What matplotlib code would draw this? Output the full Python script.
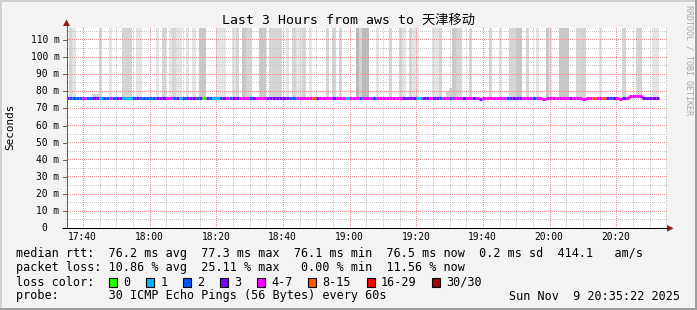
import numpy as np
import matplotlib
matplotlib.use("Agg")
import matplotlib.pyplot as plt
import matplotlib.dates as mdates
from matplotlib.patches import Rectangle, Polygon
from matplotlib.transforms import IdentityTransform
from datetime import datetime, timedelta

# ---------------- data ----------------
title = "Last 3 Hours from aws to 天津移动"
t_start = datetime(2025, 11, 9, 17, 35, 22)
t_end = datetime(2025, 11, 9, 20, 35, 22)
first_step = datetime(2025, 11, 9, 17, 35, 0)

# packets lost (of 30) per minute
loss = [3, 2, 2, 2, 2, 5, 2, 2, 3, 3,
        1, 2, 2, 4, 2, 3, 3, 1, 1, 1,
        2, 3, 2, 2, 2, 2, 2, 3, 3, 3,
        5, 4, 2, 3, 1, 2, 3, 3, 3, 2,
        3, 0, 3, 2, 1, 1, 2, 3, 4, 2,
        3, 3, 5, 4, 6, 2, 3, 4, 5, 4,
        3, 3, 3, 3, 3, 3, 3, 2, 2, 5,
        4, 6, 5, 4, 9, 3, 4, 5, 5, 4,
        3, 5, 4, 4, 1, 5, 4, 5, 2,
        4, 5, 4, 2, 5, 4, 4, 6, 5, 4,
        5, 4, 3, 3, 3, 3, 1, 1, 3, 3,
        4, 3, 3, 2, 5, 4, 2, 4, 5, 4,
        3, 5, 4, 3, 4, 3, 5, 4, 4, 6,
        5, 4, 5, 2, 3, 3, 3, 3, 4, 5,
        4, 2, 5, 4, 4, 4, 5, 4, 6, 5,
        4, 5, 3, 4, 5, 4, 4, 5, 4, 9,
        5, 6, 10, 3, 2, 3, 4, 5, 3,
        5, 4, 6, 5, 4, 3, 3, 3, 3, 3]

# median rtt per minute (ms)
median = ([76.3] * 66 + [76.2] * 58 + [75.6] + [76.2] * 18 + [75.6]
          + [76.2] * 11 + [75.6] + [76.2] * 10 + [75.6] + [76.2] * 2
          + [77.3, 77.3, 77.2, 77.2] + [76.2] * 5)

# smoke darkness per minute (0 none .. 4 darkest); full-height smoke
smoke = [0] * len(loss)
smoke_marks = {1: 2, 2: 1, 10: 2, 13: 1, 17: 2, 18: 2, 19: 2, 21: 1, 22: 1,
               27: 1, 29: 2, 31: 1, 32: 2, 33: 1, 34: 1, 36: 1, 38: 1,
               40: 3, 41: 3, 45: 1, 46: 1, 47: 1, 50: 1, 51: 2, 53: 3,
               54: 2, 55: 2, 58: 3, 59: 3, 61: 2, 62: 2, 63: 2, 64: 2,
               66: 1, 68: 2, 69: 1, 70: 1, 71: 2, 73: 1, 78: 2, 80: 2,
               82: 2, 87: 4, 88: 2, 89: 4, 90: 4, 93: 1, 97: 2, 100: 2,
               101: 1, 103: 2, 104: 1, 105: 1, 110: 1, 111: 1, 112: 2,
               116: 3, 117: 2, 118: 2, 121: 2, 127: 2, 130: 1, 133: 2,
               134: 2, 135: 3, 136: 3, 138: 2, 141: 1, 144: 3, 145: 1,
               148: 3, 149: 3, 150: 3, 153: 2, 154: 2, 155: 2, 160: 1,
               167: 2, 171: 2, 172: 2, 176: 1, 177: 1}
for k, v in smoke_marks.items():
    smoke[k] = v
# small low smoke lumps (minute index, top in ms)
low_smoke_idx = [8, 9, 114, 115]
low_smoke_top = [78.5, 78.5, 80.0, 82.0]

y_ticks = [0, 10, 20, 30, 40, 50, 60, 70, 80, 90, 100, 110]
y_minor = [5, 15, 25, 35, 45, 55, 65, 75, 85, 95, 105, 115]
y_max = 117.0
x_label_times = ["17:40", "18:00", "18:20", "18:40", "19:00", "19:20",
                 "19:40", "20:00", "20:20"]

loss_labels = ["0", "1", "2", "3", "4-7", "8-15", "16-29", "30/30"]
loss_colors = ["#26ff00", "#00b8ff", "#0059ff", "#7e00ff", "#ff00ff",
               "#ff5500", "#ff0000", "#a10000"]
loss_bounds = [0, 1, 2, 3, 7, 15, 29, 30]

legend_rtt = "median rtt:  76.2 ms avg  77.3 ms max  76.1 ms min  76.5 ms now  0.2 ms sd  414.1   am/s"
legend_loss = "packet loss: 10.86 % avg  25.11 % max   0.00 % min  11.56 % now"
legend_probe = "probe:       30 ICMP Echo Pings (56 Bytes) every 60s"
legend_date = "Sun Nov  9 20:35:22 2025"

# ---------------- figure ----------------
W, H, DPI = 697, 310, 100
MONO = "DejaVu Sans Mono"
fig = plt.figure(figsize=(W / DPI, H / DPI), dpi=DPI, facecolor="#f3f3f3")

PX0, PX1, PY0, PY1 = 67, 667, 228.3, 28
ax = fig.add_axes([PX0 / W, (H - PY0) / H, (PX1 - PX0) / W, (PY0 - PY1) / H])
ax.set_facecolor("white")
for s in ax.spines.values():
    s.set_visible(False)

xmin, xmax = mdates.date2num(t_start), mdates.date2num(t_end)
ax.set_xlim(xmin, xmax)
ax.set_ylim(0, y_max)
ax.set_xticks([])
ax.set_yticks([])

minute = 1.0 / 1440.0
steps = [mdates.date2num(first_step + timedelta(minutes=k)) for k in range(len(loss))]

shade_colors = {1: "#e4e4e4", 2: "#d5d5d5", 3: "#c8c8c8", 4: "#b9b9b9"}
for k, s in enumerate(smoke):
    if s:
        ax.bar(steps[k], 200 - median[k], bottom=median[k], width=minute,
               align="edge", color=shade_colors[s], linewidth=0,
               antialiased=False, zorder=1)
for k, top in zip(low_smoke_idx, low_smoke_top):
    ax.bar(steps[k], top - median[k], bottom=median[k], width=minute,
           align="edge", color="#d0d0d0", linewidth=0, antialiased=False,
           zorder=1)

# ---- dotted pixel grid (drawn over smoke, under the median line) ----
fig.canvas.draw()
bbox = ax.get_window_extent()
dx0, dx1 = bbox.x0, bbox.x1
dy0, dy1 = bbox.y0, bbox.y1


def hgrid(values, color, z):
    xs_all, ys_all = [], []
    px = np.arange(np.floor(dx0) + 0.5, dx1, 2.0)
    for v in values:
        yd = ax.transData.transform((xmin, v))[1]
        yd = np.floor(yd) + 0.5
        xs_all.append(px)
        ys_all.append(np.full_like(px, yd))
    ax.plot(np.concatenate(xs_all), np.concatenate(ys_all), linestyle="None",
            marker=",", color=color, transform=IdentityTransform(), zorder=z)


def vgrid(times, color, z):
    xs_all, ys_all = [], []
    py = np.arange(np.floor(dy0) + 0.5, dy1, 2.0)
    for t in times:
        xd = ax.transData.transform((mdates.date2num(t), 0))[0]
        xd = np.floor(xd) + 0.5
        xs_all.append(np.full_like(py, xd))
        ys_all.append(py)
    ax.plot(np.concatenate(xs_all), np.concatenate(ys_all), linestyle="None",
            marker=",", color=color, transform=IdentityTransform(), zorder=z)


t5 = []
t20 = []
tt = datetime(2025, 11, 9, 17, 40)
while tt <= t_end:
    (t20 if tt.minute % 20 == 0 else t5).append(tt)
    tt += timedelta(minutes=5)

hgrid(y_minor, "#c6c6c6", 2)
vgrid(t5, "#c6c6c6", 2)
hgrid(y_ticks[1:], "#ee9090", 3)
vgrid(t20, "#ee9090", 3)


def loss_color(n):
    for b, c in zip(loss_bounds, loss_colors):
        if n <= b:
            return c
    return loss_colors[-1]


cols = [loss_color(n) for n in loss]
ends = [s + minute for s in steps]
ax.hlines(median, steps, ends, colors=cols, linewidth=2.2, zorder=5,
          capstyle="butt")
for k in range(1, len(median)):
    if median[k] != median[k - 1]:
        ax.vlines(steps[k], median[k - 1], median[k], colors=cols[k],
                  linewidth=2.2, zorder=5)

# tick labels
for v in y_ticks:
    if v == 0:
        ax.text(-(PX0 - 46.8) / (PX1 - PX0), v, "0", transform=ax.get_yaxis_transform(),
                ha="right", va="center", fontsize=6.9, family=MONO, color="#000000")
    else:
        ax.text(-(PX0 - 59.5) / (PX1 - PX0), v, f"{v} m", transform=ax.get_yaxis_transform(),
                ha="right", va="center", fontsize=6.9, family=MONO, color="#000000")
for lab in x_label_times:
    hh, mm = map(int, lab.split(":"))
    tx = mdates.date2num(datetime(2025, 11, 9, hh, mm))
    ax.text(tx, -(237.5 - PY0) / (PY0 - PY1), lab, transform=ax.get_xaxis_transform(),
            ha="center", va="center", fontsize=6.9, family=MONO)

# ---------------- overlay (pixel coords) ----------------
ov = fig.add_axes([0, 0, 1, 1])
ov.set_xlim(0, W)
ov.set_ylim(H, 0)
ov.axis("off")
ov.patch.set_alpha(0)
ov.set_zorder(10)

# border
ov.add_patch(Rectangle((0, 0), W, 2, color="#cfcfcf", lw=0))
ov.add_patch(Rectangle((0, 0), 2, H, color="#cfcfcf", lw=0))
ov.add_patch(Rectangle((0, H - 2), W, 2, color="#9e9e9e", lw=0))
ov.add_patch(Rectangle((W - 2, 0), 2, H, color="#9e9e9e", lw=0))

# axes lines & arrows
ov.plot([66.5, 66.5], [PY0, 25], color="#606060", lw=0.75, solid_capstyle="butt")
ov.plot([62, 668], [PY0, PY0], color="#000000", lw=0.75, solid_capstyle="butt")
ov.add_patch(Polygon([[66.5, 19.5], [63, 26], [70, 26]], closed=True, color="#8e1b1b", lw=0))
ov.add_patch(Polygon([[673.5, PY0], [667, 225], [667, 231.6]], closed=True, color="#8e1b1b", lw=0))
# y ticks
for v in y_ticks[1:]:
    py = PY0 - v * (PY0 - PY1) / y_max
    ov.plot([63, 66.5], [py, py], color="#606060", lw=0.7)

ov.text(W / 2, 20.5, title, ha="center", va="center", fontsize=9.5,
        family=[MONO, "Noto Sans CJK SC"], color="#000000")
ov.text(10, 127, "Seconds", rotation=90, ha="center", va="center",
        fontsize=7.9, family=MONO)
ov.text(688.5, 60, "RRDTOOL / TOBI OETIKER", rotation=270, ha="center",
        va="center", fontsize=6, family=MONO, color="#a8a8a8")

LX, FS = 16.4, 8.5
CW = 7.12
ov.text(LX, 254, legend_rtt, ha="left", va="center", fontsize=FS, family=MONO)
ov.text(LX, 268, legend_loss, ha="left", va="center", fontsize=FS, family=MONO)
ov.text(LX, 282, "loss color:", ha="left", va="center", fontsize=FS, family=MONO)
c = 13.0
for lab, col in zip(loss_labels, loss_colors):
    bx = LX + c * CW
    ov.add_patch(Rectangle((bx, 277.5), 8, 9, facecolor=col, edgecolor="black", lw=0.8))
    ov.text(LX + (c + 2) * CW, 282, lab, ha="left", va="center", fontsize=FS, family=MONO)
    c += len(lab) + 4.2
ov.text(LX, 296, legend_probe, ha="left", va="center", fontsize=FS, family=MONO)
ov.text(680, 296, legend_date, ha="right", va="center", fontsize=FS, family=MONO)

fig.savefig("out.png", dpi=DPI, facecolor=fig.get_facecolor())
